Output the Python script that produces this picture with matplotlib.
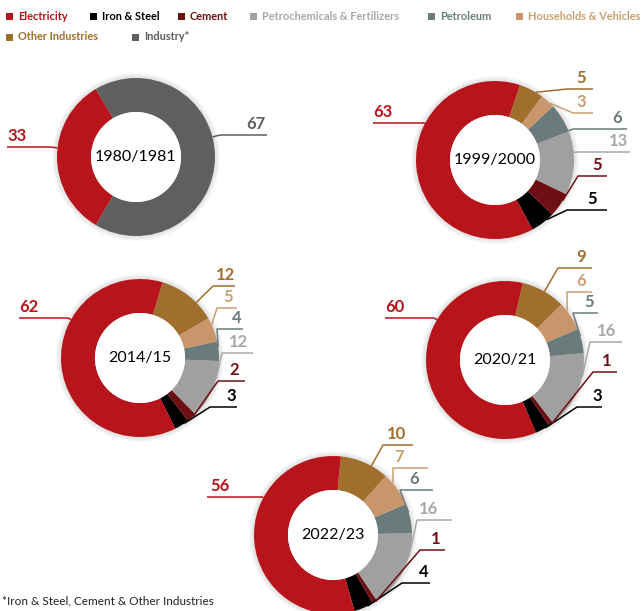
import matplotlib
matplotlib.use('Agg')
import numpy as np
import matplotlib.pyplot as plt
from matplotlib.patches import Circle, Rectangle

plt.rcParams['font.family'] = ['Lato', 'DejaVu Sans']

W, H = 641, 611

# data
categories = ['Iron & Steel', 'Cement', 'Petrochemicals & Fertilizers', 'Petroleum',
              'Households & Vehicles', 'Other Industries', 'Electricity']
years = ['1999/2000', '2014/15', '2020/21', '2022/23']
iron = [5, 3, 3, 4]
cement = [5, 2, 1, 1]
petrochem = [13, 12, 16, 16]
petroleum = [6, 4, 5, 6]
households = [3, 5, 6, 7]
other_ind = [5, 12, 9, 10]
electricity = [63, 62, 60, 56]

year_1980 = '1980/1981'
elec_1980 = 33
industry_1980 = 67

legend_items = ['Electricity', 'Iron & Steel', 'Cement', 'Petrochemicals & Fertilizers',
                'Petroleum', 'Households & Vehicles', 'Other Industries', 'Industry*']
footnote = '*Iron & Steel, Cement & Other Industries'

# colours
c_elec = '#B8141B'
c_iron = '#000000'
c_cement = '#6E0F14'
c_petchem = '#A0A0A0'
c_petrol = '#6B7B7C'
c_house = '#C8966A'
c_other = '#A06E2D'
c_indus = '#5F5F5F'
seg_colors = [c_iron, c_cement, c_petchem, c_petrol, c_house, c_other, c_elec]
txt_colors = [c_iron, c_cement, '#A8A8A8', c_petrol, '#C9A06F', c_other, c_elec]

fig = plt.figure(figsize=(W / 100, H / 100), dpi=100)
ax = fig.add_axes([0, 0, 1, 1])


def Y(y):
    return H - y


def donut(cx, cy, vals, colors, start, r_out=79, r_in=45):
    for k in range(5):
        ax.add_patch(Circle((cx, Y(cy)), r_out + 1 + k, color='#9a9a9a',
                            alpha=0.06, lw=0, zorder=0))
    wedges, _ = ax.pie(vals, colors=colors, startangle=start, counterclock=True,
                       center=(cx, Y(cy)), radius=r_out,
                       wedgeprops=dict(width=r_out - r_in, edgecolor='none'))
    ax.add_patch(Circle((cx, Y(cy)), r_in, color='white', lw=0, zorder=3))
    return wedges


def leader(w, cx, cy, r, x0, x1, yl, val, col, tx):
    # point on the wedge's outer edge closest to the elbow of the leader
    t1, t2 = w.theta1, w.theta2
    span = t2 - t1
    ang = np.rad2deg(np.arctan2(Y(yl) - Y(cy), x0 - cx))
    while ang < t1:
        ang += 360
    while ang > t1 + 360:
        ang -= 360
    lo, hi = t1 + 0.3 * span, t2 - 0.3 * span
    if ang > hi:
        # choose nearer end
        ang = hi if (ang - hi) < (t1 + 360 - ang) else lo
    a = np.deg2rad(ang)
    px, py = cx + r * np.cos(a), Y(cy) + r * np.sin(a)
    ax.plot([px, x0, x1], [py, Y(yl), Y(yl)], color=col, lw=1.1,
            solid_capstyle='butt', zorder=4)
    ax.text(tx, Y(yl) + 3, str(val), color=col, fontsize=12, fontweight='bold',
            ha='left', va='bottom', zorder=5)


# 1980/81
cx, cy = 136, 157
w = donut(cx, cy, [elec_1980, industry_1980], [c_elec, c_indus],
          180 - 3.6 * elec_1980 / 2)
ax.text(cx, Y(cy), year_1980, ha='center', va='center', fontsize=11.5, zorder=5)
leader(w[0], cx, cy, 79, 50, 7, 147, elec_1980, c_elec, 7)
leader(w[1], cx, cy, 79, 220, 267, 135, industry_1980, c_indus, 246)

# positions for the other four donuts: centre, left label, right labels
centres = [(495, 160), (140, 358), (505, 360), (333, 535)]
left_lab = [(424, 373, 123, 373), (68, 19, 318, 19), (434, 385, 318, 385), (262, 207, 497, 210)]
right_lab = [
    # iron, cement, petrochem, petroleum, households, other: (x0, x1, y, text_x)
    [(567, 607, 210, 587), (578, 607, 176, 592), (578, 630, 152, 609),
     (573, 627, 129, 612), (573, 593, 113, 576), (567, 593, 89, 576)],
    [(210, 237, 407, 226), (218, 245, 381, 229), (222, 253, 353, 229),
     (217, 243, 329, 232), (217, 237, 308, 223), (213, 235, 286, 216)],
    [(577, 602, 407, 592), (593, 617, 372, 602), (590, 622, 342, 597),
     (573, 598, 313, 584), (567, 592, 292, 576), (558, 592, 268, 576)],
    [(402, 430, 583, 419), (420, 445, 550, 431), (417, 452, 520, 419),
     (400, 433, 490, 409), (393, 428, 468, 394), (383, 413, 445, 387)],
]

for i in range(4):
    vals = [iron[i], cement[i], petrochem[i], petroleum[i], households[i],
            other_ind[i], electricity[i]]
    cx, cy = centres[i]
    small = sum(vals[:6])
    w = donut(cx, cy, vals, seg_colors, 5 - 3.6 * small / 2)
    ax.text(cx, Y(cy), years[i], ha='center', va='center', fontsize=11.5, zorder=5)
    x0, x1, yl, tx = left_lab[i]
    leader(w[6], cx, cy, 79, x0, x1, yl, vals[6], c_elec, tx)
    for j in range(6):
        x0, x1, yl, tx = right_lab[i][j]
        leader(w[j], cx, cy, 79, x0, x1, yl, vals[j], txt_colors[j], tx)

# legend
leg_pos = [(6, 16), (90, 16), (178, 16), (250, 16), (428, 16), (516, 16), (6, 37), (132, 37)]
leg_cols = [c_elec, c_iron, c_cement, c_petchem, c_petrol, c_house, c_other, c_indus]
leg_txt = [c_elec, c_iron, c_cement, '#A8A8A8', c_petrol, '#C9A06F', c_other, c_indus]
for (lx, ly), lab, c, tc in zip(leg_pos, legend_items, leg_cols, leg_txt):
    ax.add_patch(Rectangle((lx, Y(ly) - 3.5), 7, 7, color=c, lw=0))
    ax.text(lx + 12, Y(ly), lab, color=tc,
            fontsize=7.9, fontweight='bold', va='center', ha='left')

ax.text(2, Y(601), footnote, fontsize=8.5, color='#222222', va='center', ha='left')

ax.set_xlim(0, W)
ax.set_ylim(0, H)
ax.set_aspect('equal')
ax.axis('off')
fig.savefig('out.png', dpi=100)
